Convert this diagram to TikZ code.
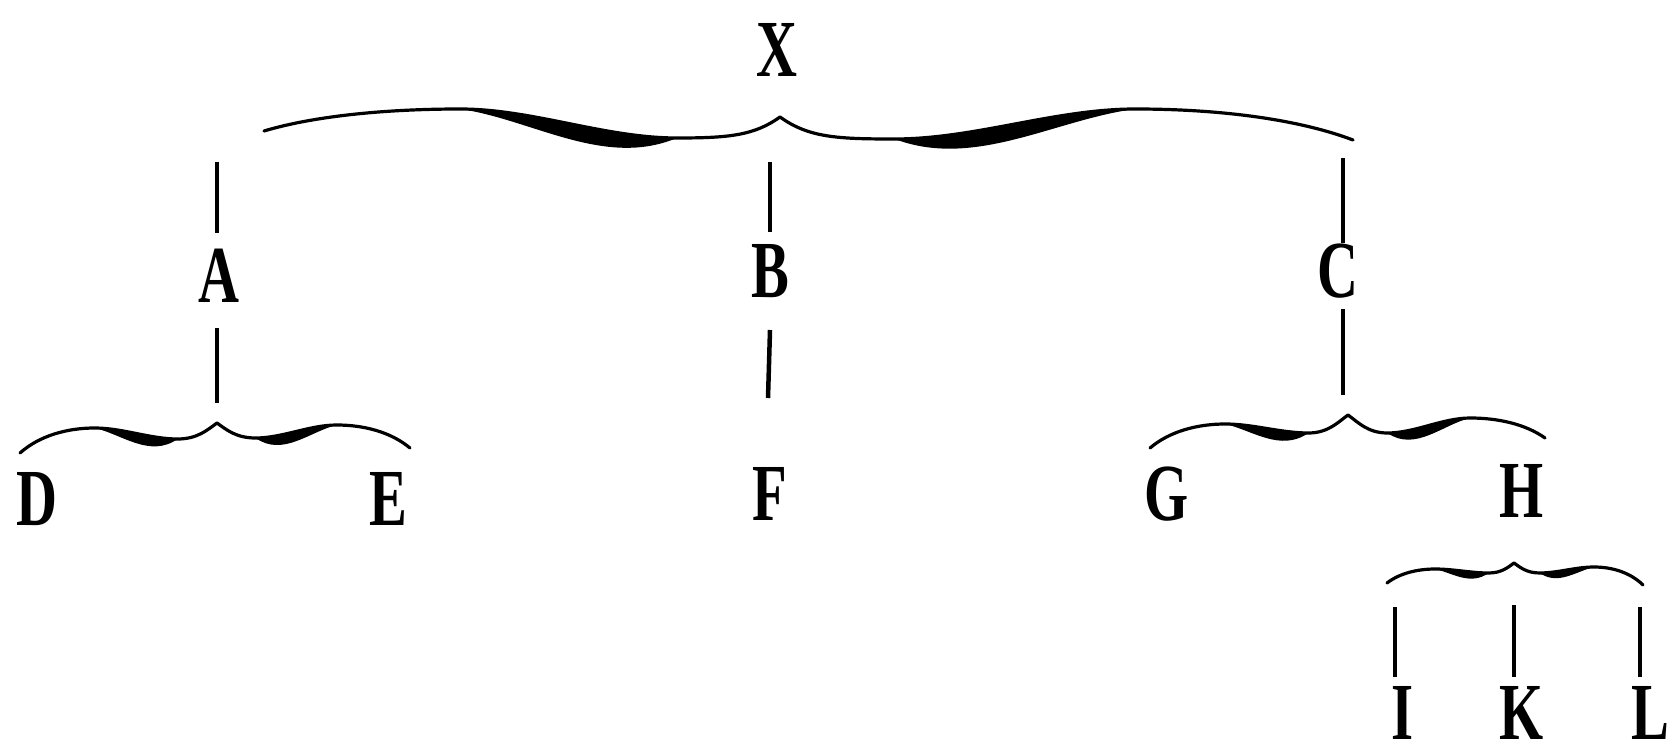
\documentclass[tikz,border=0pt]{standalone}
\usepackage{graphicx}
\usepackage{fontspec}
\setmainfont{Liberation Serif}
\tikzset{
  lbl/.style={inner sep=0pt, anchor=base, font=\fontsize{81}{92}\selectfont\bfseries},
  stem/.style={line width=4.5pt},
  bracestroke/.style={line width=3.2pt, line cap=round},
}
\newcommand\cnd[1]{\scalebox{0.7}[1]{#1}}
% xE yE xT yT yP yD t
\newcommand\bracearm[7]{%
  \pgfmathsetmacro\brW{#3-#1}%
  \pgfmathsetmacro\brPx{#1+0.38*\brW}%
  \pgfmathsetmacro\brDx{#1+0.8*\brW}%
  \pgfmathsetmacro\brDX{#3-\brDx}%
  \draw[bracestroke] (#1,#2) .. controls ({#1+0.1*\brW},{#2-0.7*(#2-#5)}) and ({#1+0.24*\brW},#5) .. (\brPx,#5)
    .. controls ({#1+0.52*\brW},#5) and ({#1+0.66*\brW},#6) .. (\brDx,#6)
    .. controls ({\brDx+0.5*\brDX},#6) and ({#3-0.25*\brDX},{#4+abs(0.18*\brDX)}) .. (#3,#4);
  \fill (\brPx,#5) .. controls ({#1+0.52*\brW},#5) and ({#1+0.66*\brW},#6) .. (\brDx,#6)
    .. controls ({#1+0.66*\brW},{#6+1.6*#7}) and ({#1+0.52*\brW},{#5+0.55*#7}) .. cycle;
}
\begin{document}
\begin{tikzpicture}[x=1pt,y=-1pt]
\useasboundingbox[fill=white] (0,0) rectangle (1672,743);
% letters
\node[lbl] (X) at (777,77) {\cnd{X}};
\node[lbl] (A) at (219,302) {\cnd{A}};
\node[lbl] (B) at (770,298) {\cnd{B}};
\node[lbl] (C) at (1338,298) {\cnd{C}};
\node[lbl] (D) at (37,525) {\cnd{D}};
\node[lbl] (E) at (388,525) {\cnd{E}};
\node[lbl] (F) at (770,520) {\cnd{F}};
\node[lbl] (G) at (1167,520) {\cnd{G}};
\node[lbl] (H) at (1522,517) {\cnd{H}};
\node[lbl] (I) at (1403,739) {\cnd{I}};
\node[lbl] (K) at (1522,739) {\cnd{K}};
\node[lbl] (L) at (1650,739) {\cnd{L}};
% braces
\bracearm{264}{131}{780}{117}{109}{138}{19}
\bracearm{1353}{140}{780}{117}{109}{139}{19}
\bracearm{20}{453}{217}{423}{428}{439}{12}
\bracearm{410}{448}{217}{423}{425}{438}{12}
\bracearm{1150}{448}{1348}{415}{424}{433}{12}
\bracearm{1545}{438}{1348}{415}{418}{433}{12}
\bracearm{1387}{583}{1514}{563}{569}{573}{8}
\bracearm{1643}{585}{1514}{563}{567}{573}{8}
% stems
\coordinate (a1) at (217,162); \coordinate (a2) at (217,233);
\coordinate (a3) at (217,328); \coordinate (a4) at (217,403);
\coordinate (b1) at (770,162); \coordinate (b2) at (770,232);
\coordinate (b3) at (770,330); \coordinate (b4) at (768,398);
\coordinate (c1) at (1343,158); \coordinate (c2) at (1343,243);
\coordinate (c3) at (1343,309); \coordinate (c4) at (1343,395);
\coordinate (i1) at (1395,607); \coordinate (i2) at (1395,677);
\coordinate (k1) at (1514,605); \coordinate (k2) at (1514,677);
\coordinate (l1) at (1640,607); \coordinate (l2) at (1640,677);
\draw[stem] (a1) -- (a2);
\draw[stem] (a3) -- (a4);
\draw[stem] (b1) -- (b2);
\draw[stem] (b3) -- (b4);
\draw[stem] (c1) -- (c2);
\draw[stem] (c3) -- (c4);
\draw[stem] (i1) -- (i2);
\draw[stem] (k1) -- (k2);
\draw[stem] (l1) -- (l2);
\end{tikzpicture}
\end{document}
